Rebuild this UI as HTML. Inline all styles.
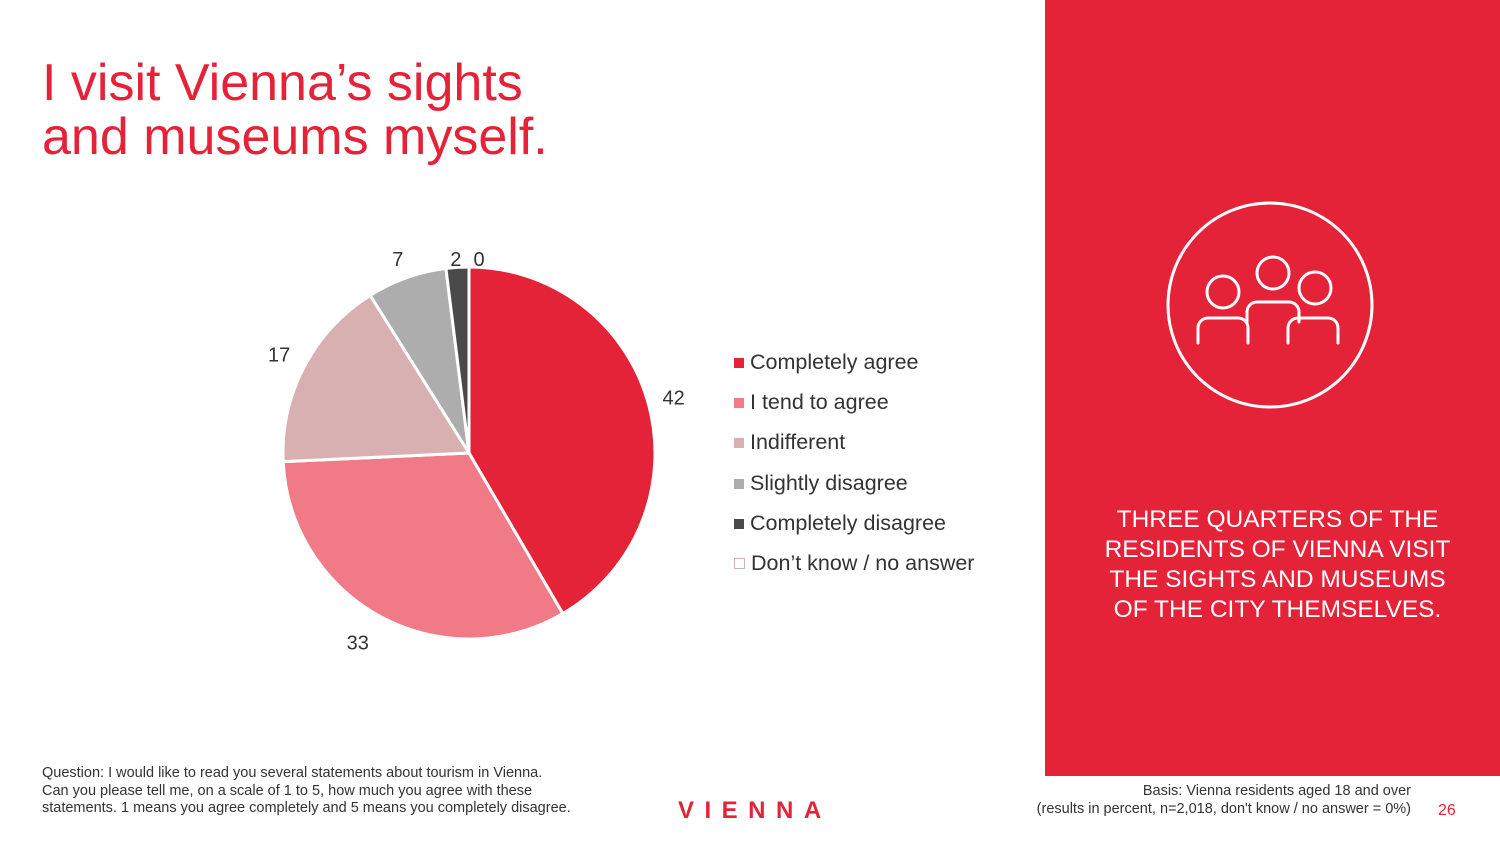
<!DOCTYPE html>
<html><head><meta charset="utf-8"><style>
body{margin:0;width:1500px;height:844px;background:#fff;font-family:"Liberation Sans",sans-serif;position:relative;overflow:hidden}
.abs{position:absolute}
.t{color:#e42238;font-size:52px;line-height:54px;left:42px;top:56px}
.leg{left:734px;font-size:21.5px;color:#333;}
.sw{display:inline-block;width:10px;height:10px;margin-right:6px;vertical-align:1px}
.foot{font-size:14.5px;color:#333;line-height:17.5px;white-space:nowrap}
</style></head><body>
<div class="abs t">I visit Vienna’s sights<br>and museums myself.</div>
<svg class="abs" style="left:0;top:0" width="1000" height="760" id="pie"></svg>
<div class="abs leg" style="top:350px" id="legend"></div>
<div class="abs" style="left:1045px;top:0;width:455px;height:776px;background:#e42238">
<svg width="455" height="420">
<g fill="none" stroke="#fff" stroke-width="3" stroke-linecap="round">
<circle cx="225" cy="305" r="102"/>
<circle cx="178" cy="292" r="16"/><circle cx="228" cy="273" r="16"/><circle cx="270" cy="288" r="16"/>
<path d="M153 343 V328 a10 10 0 0 1 10 -10 h30 a10 10 0 0 1 10 10 V343"/>
<path d="M202 322 V312 a10 10 0 0 1 10 -10 h32 a10 10 0 0 1 10 10 V322"/>
<path d="M243 343 V328 a10 10 0 0 1 10 -10 h30 a10 10 0 0 1 10 10 V343"/>
</g></svg>
<div class="abs" style="left:0;top:505px;width:465px;text-align:center;color:#fff;font-size:24.5px;line-height:30px">THREE QUARTERS OF THE<br>RESIDENTS OF VIENNA VISIT<br>THE SIGHTS AND MUSEUMS<br>OF THE CITY THEMSELVES.</div>
</div>
<div class="abs foot" style="left:42px;top:765px">Question: I would like to read you several statements about tourism in Vienna.<br>Can you please tell me, on a scale of 1 to 5, how much you agree with these<br>statements. 1 means you agree completely and 5 means you completely disagree.</div>
<div class="abs" style="left:678px;top:797px;color:#e42238;font-weight:bold;font-size:24px;letter-spacing:10.5px">VIENNA</div>
<div class="abs foot" style="right:89px;top:783px;text-align:right">Basis: Vienna residents aged 18 and over<br>(results in percent, n=2,018, don't know / no answer = 0%)</div>
<div class="abs" style="left:1438px;top:802px;color:#e42238;font-size:16px">26</div>
<script>
const categories=["Completely agree","I tend to agree","Indifferent","Slightly disagree","Completely disagree","Don’t know / no answer"];
const values=[42,33,17,7,2,0];
const colors=["#e42238","#f07b87","#d8b0b1","#adadad","#4a4a4a","#fff"];
const svg=document.getElementById('pie');const NS="http://www.w3.org/2000/svg";
const cx=469,cy=453,R=186,total=values.reduce((a,b)=>a+b,0);
let a=0;
values.forEach((v,i)=>{
  const a0=a/total*2*Math.PI;a+=v;const a1=a/total*2*Math.PI;
  const x0=cx+R*Math.sin(a0),y0=cy-R*Math.cos(a0),x1=cx+R*Math.sin(a1),y1=cy-R*Math.cos(a1);
  if(v>0){const p=document.createElementNS(NS,'path');
  p.setAttribute('d',`M${cx} ${cy}L${x0} ${y0}A${R} ${R} 0 ${a1-a0>Math.PI?1:0} 1 ${x1} ${y1}Z`);
  p.setAttribute('fill',colors[i]);p.setAttribute('stroke','#fff');p.setAttribute('stroke-width','3');
  
  
  svg.appendChild(p);}
  const am=(a0+a1)/2;let lr=R+26;
  let lx=cx+lr*Math.sin(am),ly=cy-lr*Math.cos(am);
  if(i>=3){ly=Math.max(ly,259);}
  if(i==5){lx+=10;}
  if(i==1){lx-=10;ly+=3;}
  if(i==2){lx-=2;}
  const t=document.createElementNS(NS,'text');
  t.setAttribute('x',lx);t.setAttribute('y',ly+7);t.setAttribute('text-anchor','middle');
  t.setAttribute('font-size','20');t.setAttribute('fill','#333');t.setAttribute('font-family','Liberation Sans');
  t.textContent=values[i];
  
  
  svg.appendChild(t);
});
const leg=document.getElementById('legend');
categories.forEach((c,i)=>{
  const d=document.createElement('div');d.style.height='40.2px';
  
  
  const border=i==5?'border:1px solid #d8b0b1;width:9px;height:9px;':'';
  d.innerHTML=`<span class="sw" style="background:${colors[i]};${border}"></span>${c}`;
  leg.appendChild(d);
});
</script>
</body></html>
